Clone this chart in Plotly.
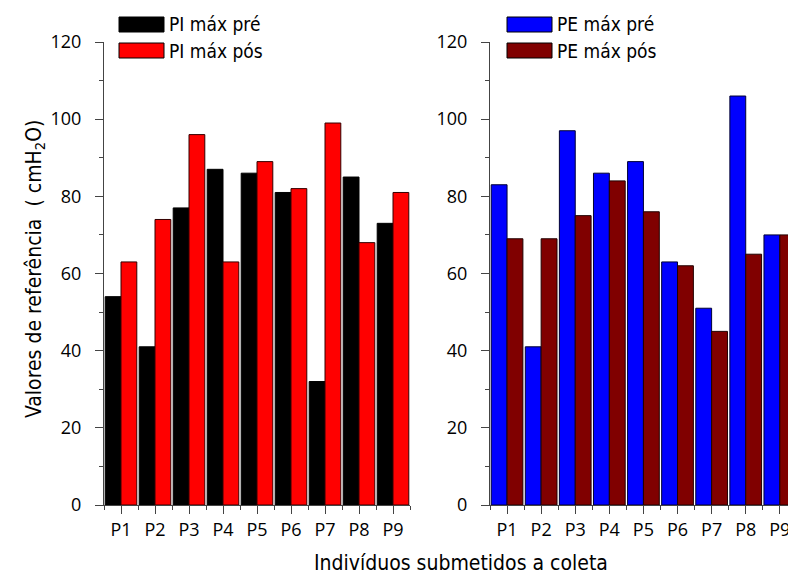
import plotly.graph_objects as go

categories = ["P1", "P2", "P3", "P4", "P5", "P6", "P7", "P8", "P9"]
pi_pre = [54, 41, 77, 87, 86, 81, 32, 85, 73]
pi_pos = [63, 74, 96, 63, 89, 82, 99, 68, 81]
pe_pre = [83, 41, 97, 86, 89, 63, 51, 106, 70]
pe_pos = [69, 69, 75, 84, 76, 62, 45, 65, 70]
y_ticks = [0, 20, 40, 60, 80, 100, 120]

W, H = 788, 576
idx = list(range(len(categories)))

TICKFONT = dict(family="Open Sans", size=18, color="#000")
TITLEFONT = dict(family="DejaVu Sans Condensed", size=21, color="#000")
LEGFONT = dict(family="DejaVu Sans Condensed", size=19, color="#000")

fig = go.Figure()
fig.add_trace(go.Bar(x=idx, y=pi_pre, name="PI máx pré", marker=dict(color="#000000", line=dict(color="#000", width=1)), xaxis="x", yaxis="y"))
fig.add_trace(go.Bar(x=idx, y=pi_pos, name="PI máx pós", marker=dict(color="#FF0000", line=dict(color="#300", width=1)), xaxis="x", yaxis="y"))
fig.add_trace(go.Bar(x=idx, y=pe_pre, name="PE máx pré", marker=dict(color="#0000FF", line=dict(color="#000033", width=1)), xaxis="x2", yaxis="y2"))
fig.add_trace(go.Bar(x=idx, y=pe_pos, name="PE máx pós", marker=dict(color="#800000", line=dict(color="#200000", width=1)), xaxis="x2", yaxis="y2"))

ydom = [1 - 505 / H, 1 - 42 / H]

def xaxis(domain, rng, anchor):
    return dict(
        domain=domain, range=rng, anchor=anchor, automargin=False,
        ticklabeloverflow="allow",
        tickmode="array", tickvals=idx, ticktext=categories,
        ticks="outside", ticklen=8, tickwidth=1, tickcolor="#444",
        showline=True, linecolor="#444", linewidth=1,
        showgrid=False, zeroline=False, tickfont=TICKFONT,
        minor=dict(tickmode="linear", tick0=0.5, dtick=1, ticks="outside", ticklen=4, tickcolor="#444", showgrid=False),
    )

def yaxis(anchor):
    return dict(
        domain=ydom, range=[0, 120], anchor=anchor, automargin=False,
        ticklabeloverflow="allow",
        tickmode="array", tickvals=y_ticks,
        ticks="outside", ticklen=8, tickwidth=1, tickcolor="#444",
        showline=True, linecolor="#444", linewidth=1,
        showgrid=False, zeroline=False, tickfont=TICKFONT,
        ticklabelstandoff=10,
        minor=dict(tickmode="linear", tick0=0, dtick=10, ticks="outside", ticklen=4, tickcolor="#444", showgrid=False),
    )

fig.update_layout(
    width=W, height=H,
    margin=dict(l=0, r=0, t=0, b=0, pad=0, autoexpand=False),
    paper_bgcolor="white", plot_bgcolor="white",
    barmode="group", bargap=0.07, bargroupgap=0,
    showlegend=False,
    xaxis=xaxis([104 / W, 410 / W], [-0.5, 8.5], "y"),
    yaxis=yaxis("x"),
    xaxis2=xaxis([490 / W, 1], [-0.5, 8.24], "y2"),
    yaxis2=yaxis("x2"),
)

# Legends drawn as swatches + text (paper coordinates)
legend_items = [
    (119, 17, "#000000", "PI máx pré"),
    (119, 43, "#FF0000", "PI máx pós"),
    (507, 17, "#0000FF", "PE máx pré"),
    (507, 43, "#800000", "PE máx pós"),
]
for lx, ly, col, label in legend_items:
    fig.add_shape(type="rect", xref="paper", yref="paper",
                  x0=lx / W, x1=(lx + 45) / W, y0=1 - ly / H, y1=1 - (ly + 15) / H,
                  fillcolor=col, line=dict(color="#000", width=1))
    fig.add_annotation(xref="paper", yref="paper", x=(lx + 48) / W, y=1 - (ly + 7.5) / H,
                       text=label, showarrow=False, xanchor="left", yanchor="middle",
                       font=LEGFONT)

fig.add_annotation(xref="paper", yref="paper", x=35 / W, y=1 - 269 / H,
                   text="Valores de referência  ( cmH<sub>2</sub>O)", textangle=-90,
                   showarrow=False, xanchor="center", yanchor="middle", font=TITLEFONT)
fig.add_annotation(xref="paper", yref="paper", x=461 / W, y=1 - 563 / H,
                   text="Indivíduos submetidos a coleta",
                   showarrow=False, xanchor="center", yanchor="middle", font=TITLEFONT)

fig.write_html(
    "out.html",
    config={"displayModeBar": False},
    post_script="document.body.style.margin='0';document.body.style.overflow='hidden';",
)
